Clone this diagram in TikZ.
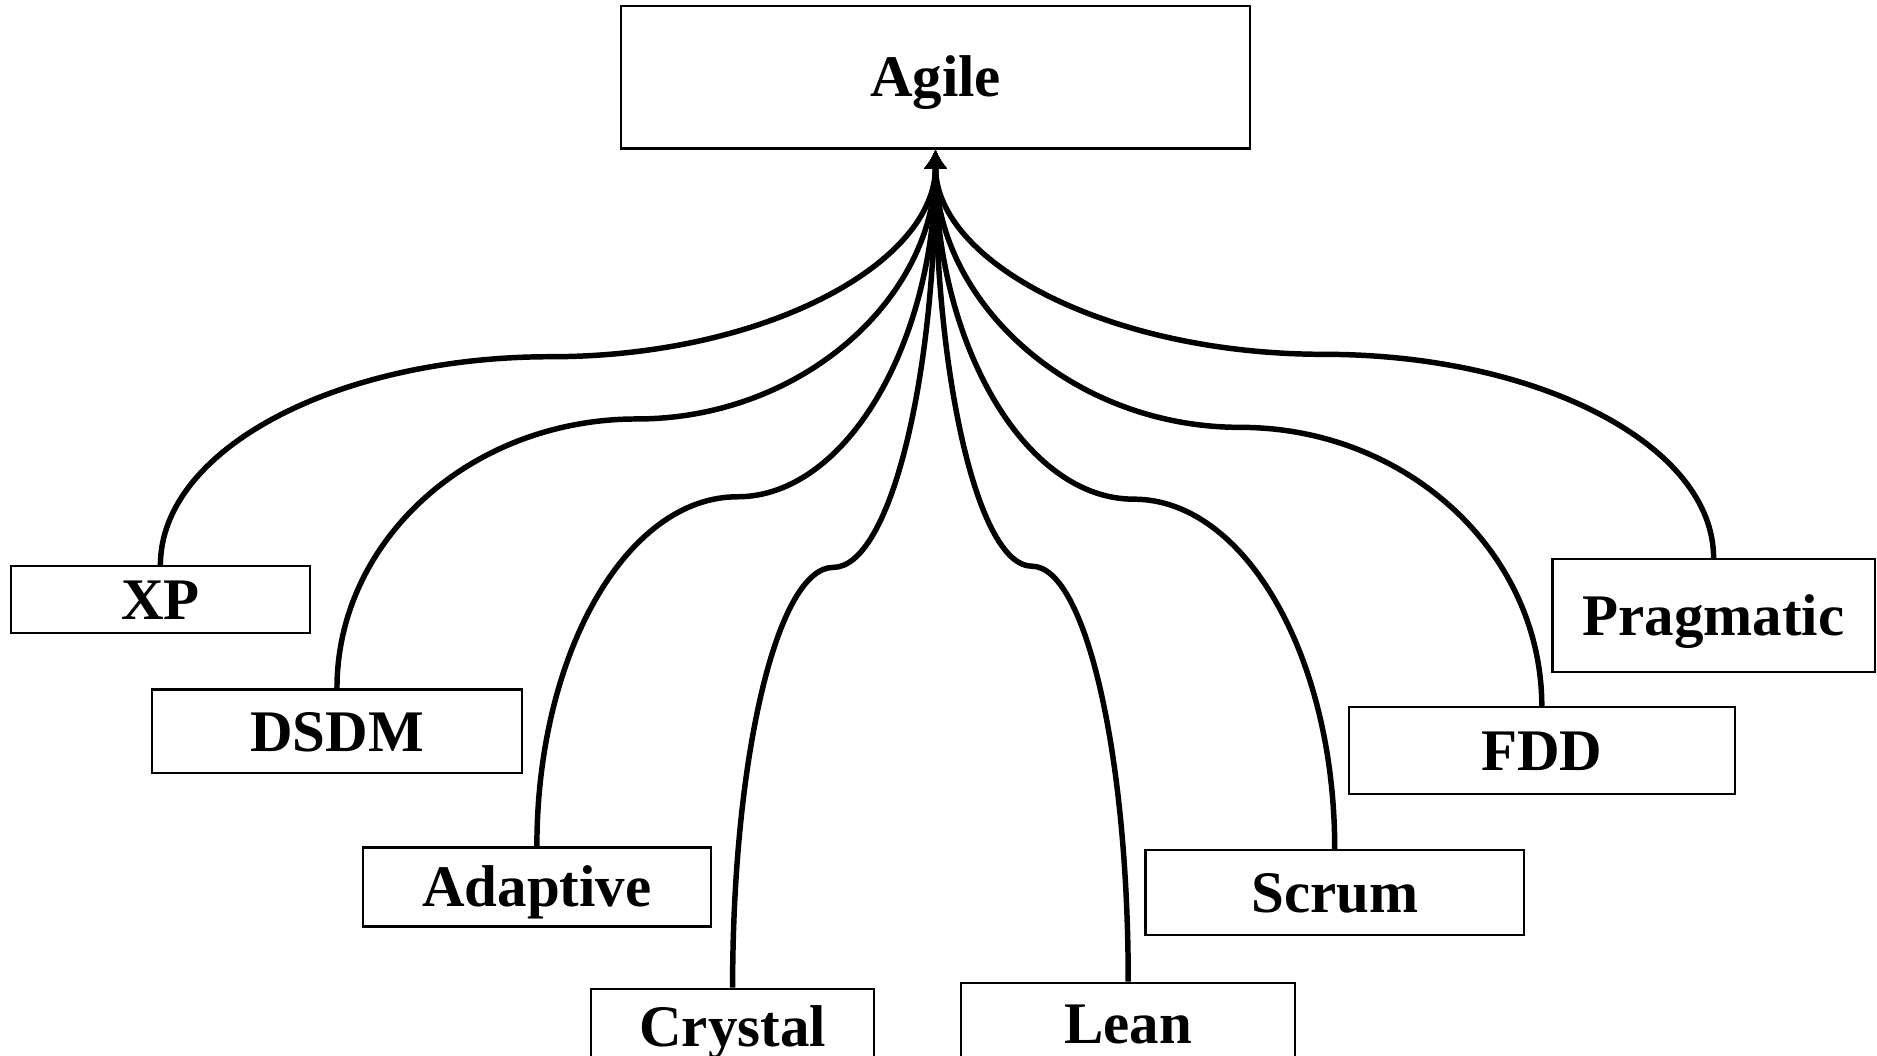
\documentclass[tikz,border=0pt]{standalone}
\usepackage{fontspec}
\setmainfont{Liberation Serif}
\usetikzlibrary{arrows.meta,calc}

\begin{document}
\begin{tikzpicture}[x=0.01cm,y=-0.01cm,
    box/.style={draw,line width=0.5pt,inner sep=0,
      font=\fontsize{14}{17}\selectfont\bfseries,text height=0.94em,text depth=0pt},
    link/.style={line width=1.3pt,-{Latex[length=4.6pt,width=5.8pt]}}]

  \path[use as bounding box,clip] (0,0) rectangle (1568,882);

  % Root
  \node[box,minimum width=5.25cm,minimum height=1.19cm] (agile) at (781.5,64.5) {Agile};

  % Methods and the bend of each link
  \foreach \k/\t/\cx/\cy/\w/\h/\mx/\my in {%
      xp/XP/134/501/2.50/0.56/460/298,
      dsdm/DSDM/281.5/611/3.09/0.70/532/350,
      adaptive/Adaptive/448.5/741/2.91/0.66/616/415,
      crystal/Crystal/612/858/2.36/0.64/696/474,
      lean/Lean/942.5/855.5/2.79/0.69/862/473,
      scrum/Scrum/1115/745.5/3.16/0.71/947/417,
      fdd/FDD/1288/627/3.22/0.72/1036/357,
      pragmatic/Pragmatic/1431.5/514/2.69/0.94/1106/296}{%
    \node[box,minimum width=\w cm,minimum height=\h cm] (\k) at (\cx,\cy) {\t};
    \coordinate (\k bend) at (\mx,\my);
    \draw[link] let \p1=(\k.north), \p2=(\k bend), \p3=(agile.south) in
      (\p1) .. controls (\x1,{\y1+0.552*(\y2-\y1)}) and ({\x2+0.552*(\x1-\x2)},\y2) .. (\p2)
            .. controls ({\x2+0.552*(\x3-\x2)},\y2) and (\x3,{\y3+0.552*(\y2-\y3)}) .. (\p3);
  }

\end{tikzpicture}
\end{document}
